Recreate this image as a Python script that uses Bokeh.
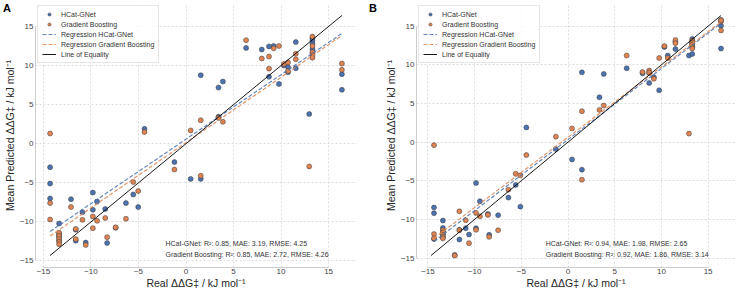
from bokeh.plotting import figure
from bokeh.models import Range1d, FixedTicker, Label, Legend, LegendItem, Div
from bokeh.layouts import row, column
from bokeh.embed import file_html
from bokeh.resources import INLINE

# ---------------- Panel A ----------------
real_a = [-14.3, -14.3, -14.3,
          -13.35, -13.35, -13.35, -13.35, -13.35,
          -12.1, -11.6, -11.6, -10.9, -10.55, -9.8, -9.8, -9.36, -8.5, -8.3, -7.4,
          -6.32, -5.55, -5.03, -4.37, -1.22, 0.49, 1.55, 1.55, 3.42, 3.42, 3.88,
          6.32, 7.97, 8.73, 8.73, 9.22, 9.78, 10.3, 10.73, 10.73, 11.55, 11.55, 12.96,
          13.3, 13.3, 13.3, 13.3, 13.3, 16.4, 16.4]
hcat_a = [-3.0, -5.1, -7.0,
          -10.2, -11.45, -11.7, -12.0, -12.4,
          -7.1, -11.0, -12.4, -8.76, -12.65, -6.25, -8.45, -7.4, -8.35, -12.7, -10.75,
          -7.6, -6.5, -8.1, 1.9, -2.35, -4.5, 8.76, -4.5, 7.18, 3.45, 7.95,
          12.25, 12.05, 12.45, 8.55, 12.5, 7.65, 10.0, 9.8, 9.15, 13.0, 9.65, 3.8,
          13.5, 13.2, 12.8, 12.1, 11.6, 8.9, 6.9]
gb_a = [1.3, -7.6, -9.7,
        -11.4, -11.8, -12.2, -12.55, -12.85,
        -8.1, -10.9, -12.2, -9.74, -12.95, -10.8, -9.3, -9.87, -9.5, -11.95, -10.7,
        -9.6, -4.9, -6.05, 1.5, -3.3, 1.7, 3.0, -4.1, 3.35, 3.3, 2.8,
        13.25, 10.9, 11.15, 9.6, 12.2, 12.5, 10.2, 10.4, 9.3, 11.5, 10.8, -2.9,
        13.7, 12.5, 11.7, 11.3, 11.0, 10.25, 9.45]
reg_hcat_a = (0.825, 0.58)   # slope, intercept
reg_gb_a = (0.836, 0.14)
stats_a = ["HCat-GNet: R²: 0.85, MAE: 3.19, RMSE: 4.25",
           "Gradient Boosting: R²: 0.85, MAE: 2.72, RMSE: 4.26"]

# ---------------- Panel B ----------------
real_b = [-14.35, -14.35, -14.35,
          -13.4, -13.4, -13.4, -13.4, -13.4,
          -12.13, -11.63, -11.63, -10.95, -10.6, -9.85, -9.85, -9.43, -8.58, -8.44, -7.48,
          -6.38, -5.6, -5.1, -4.46, -1.3, 0.43, 1.49, 1.49, 3.37, 3.83,
          6.28, 7.98, 8.69, 8.69, 9.19, 9.76, 10.32, 10.68, 11.5, 11.5, 12.95,
          13.3, 13.3, 13.3, 13.3, 13.3, 16.38, 16.38, 16.38]
hcat_b = [-8.47, -9.2, -12.55,
          -10.15, -11.1, -11.5, -11.9, -12.3,
          -14.6, -11.35, -12.6, -11.14, -11.96, -5.29, -11.14, -7.65, -9.29, -12.0, -9.46,
          -7.18, -5.55, -8.35, 1.9, -0.9, -2.24, 9.03, -3.57, 5.8, 8.82,
          9.55, 8.9, 7.65, 8.95, 8.4, 6.7, 12.3, 11.19, 12.04, 13.0, 11.2,
          13.33, 13.0, 12.7, 12.4, 11.4, 15.8, 15.07, 12.1]
gb_b = [-0.4, -11.9, -12.45,
        -11.4, -11.7, -12.0, -12.25, -12.45,
        -14.67, -8.95, -11.4, -10.1, -13.07, -9.16, -11.35, -9.6, -9.42, -12.26, -11.4,
        -6.15, -4.09, -4.3, -1.68, 0.7, 1.77, 4.0, -4.86, 4.17, 4.73,
        11.2, 9.07, 9.25, 9.0, 8.2, 10.88, 12.43, 10.88, 13.2, 12.8, 1.1,
        13.1, 12.85, 12.6, 12.25, 12.1, 15.6, 14.45, 15.75]
reg_hcat_b = (0.919, 0.33)
reg_gb_b = (0.910, 0.63)
stats_b = ["HCat-GNet: R²: 0.94, MAE: 1.98, RMSE: 2.65",
           "Gradient Boosting: R²: 0.92, MAE: 1.86, RMSE: 3.14"]

ticks = [-15, -10, -5, 0, 5, 10, 15]
labels = ["HCat-GNet", "Gradient Boosting", "Regression HCat-GNet",
          "Regression Gradient Boosting", "Line of Equality"]
panel_letters = ["A", "B"]

BLUE = "#4C72B0"
ORANGE = "#DD8452"
FONT = "Liberation Sans"
H = 291


def make_panel(real, hcat, gb, reg_h, reg_g, stats, width, mbl, mbr):
    all_vals = list(real) + list(hcat) + list(gb)
    lo, hi = min(all_vals), max(all_vals)
    pad = 0.05 * (hi - lo)
    xr = Range1d(lo - pad, hi + pad)
    yr = Range1d(lo - pad, hi + pad)
    p = figure(width=width, height=H, x_range=xr, y_range=yr,
               output_backend="svg", toolbar_location=None,
               min_border_left=mbl, min_border_right=mbr,
               min_border_top=3, min_border_bottom=0)
    p.outline_line_color = None
    p.background_fill_color = "white"
    p.border_fill_alpha = 0

    s1 = p.scatter(real, hcat, size=5, fill_color=BLUE, line_color="#3a3a3a", line_width=0.5)
    s2 = p.scatter(real, gb, size=5, fill_color=ORANGE, line_color="#3a3a3a", line_width=0.5)

    xs = [min(real), max(real)]
    l1 = p.line(xs, [reg_h[0] * x + reg_h[1] for x in xs], line_color=BLUE, line_alpha=0.85,
                line_dash="4 2", line_width=1.2)
    l2 = p.line(xs, [reg_g[0] * x + reg_g[1] for x in xs], line_color=ORANGE, line_alpha=0.85,
                line_dash="4 2", line_width=1.2)
    l3 = p.line([lo, hi], [lo, hi], line_color="black", line_width=1.0, line_alpha=0.9)

    for ax in (p.xaxis[0], p.yaxis[0]):
        ax.ticker = FixedTicker(ticks=ticks)
        ax.major_label_overrides = {t: str(t).replace("-", "\u2212") for t in ticks}
        ax.bounds = (-15, 15)
        ax.axis_line_color = "#cccccc"
        ax.axis_line_width = 1
        ax.major_tick_line_color = None
        ax.minor_tick_line_color = None
        ax.major_tick_out = 0
        ax.major_tick_in = 0
        ax.minor_tick_out = 0
        ax.major_label_standoff = 2
        ax.major_label_text_font = FONT
        ax.major_label_text_font_size = "8px"
        ax.major_label_text_line_height = 1.0
        ax.major_label_text_color = "#444444"
        ax.axis_label_text_font = FONT
        ax.axis_label_text_font_size = "10.5px"
        ax.axis_label_text_line_height = 1.0
        ax.axis_label_text_font_style = "normal"
        ax.axis_label_text_color = "#262626"
        ax.axis_label_standoff = 1
    p.xaxis[0].major_label_standoff = 1
    p.xaxis[0].axis_label_standoff = 0
    p.xaxis[0].axis_label = "Real \u0394\u0394G\u2021 / kJ mol\u207b\u00b9"
    p.yaxis[0].axis_label = "Mean Predicted \u0394\u0394G\u2021 / kJ mol\u207b\u00b9"

    for g in (p.xgrid[0], p.ygrid[0]):
        g.ticker = FixedTicker(ticks=ticks)
        g.grid_line_color = "#d4d4d4"
        g.grid_line_dash = "2 2"
        g.grid_line_width = 0.8

    legend = Legend(items=[LegendItem(label=labels[0], renderers=[s1]),
                           LegendItem(label=labels[1], renderers=[s2]),
                           LegendItem(label=labels[2], renderers=[l1]),
                           LegendItem(label=labels[3], renderers=[l2]),
                           LegendItem(label=labels[4], renderers=[l3])],
                    location="top_left")
    legend.label_text_font = FONT
    legend.label_text_font_size = "7px"
    legend.label_text_color = "#333333"
    legend.label_height = 8
    legend.glyph_height = 8
    legend.glyph_width = 14
    legend.spacing = 2
    legend.padding = 4
    legend.margin = 2
    legend.label_standoff = 5
    legend.border_line_color = "#cccccc"
    legend.border_line_width = 0.8
    legend.background_fill_alpha = 0.8
    p.add_layout(legend)

    span = (hi + pad) - (lo - pad)
    tx = lo - pad + 0.405 * span
    p.add_layout(Label(x=tx, y=lo - pad + 0.09 * span, text=stats[0], text_font=FONT,
                       text_font_size="7px", text_color="#333333", text_baseline="middle"))
    p.add_layout(Label(x=tx, y=lo - pad + 0.05 * span, text=stats[1], text_font=FONT,
                       text_font_size="7px", text_color="#333333", text_baseline="middle"))
    return p


pa = make_panel(real_a, hcat_a, gb_a, reg_hcat_a, reg_gb_a, stats_a, 370, 34, 14)
pb = make_panel(real_b, hcat_b, gb_b, reg_hcat_b, reg_gb_b, stats_b, 368, 46, 3)

letters_html = (
    "<div style=\"display:flex;font-family:'Liberation Sans',Arial,sans-serif;"
    "font-weight:bold;font-size:11px;line-height:12px;color:black;padding-top:2px\">"
    "<span style=\"display:inline-block;width:369px;padding-left:3px\">%s</span>"
    "<span style=\"display:inline-block\">%s</span></div>" % (panel_letters[0], panel_letters[1])
)
letters = Div(text=letters_html, width=738, height=14, margin=(0, 0, -14, 0))

layout = column(letters, row(pa, pb))
open("out.html", "w").write(file_html(layout, INLINE))
